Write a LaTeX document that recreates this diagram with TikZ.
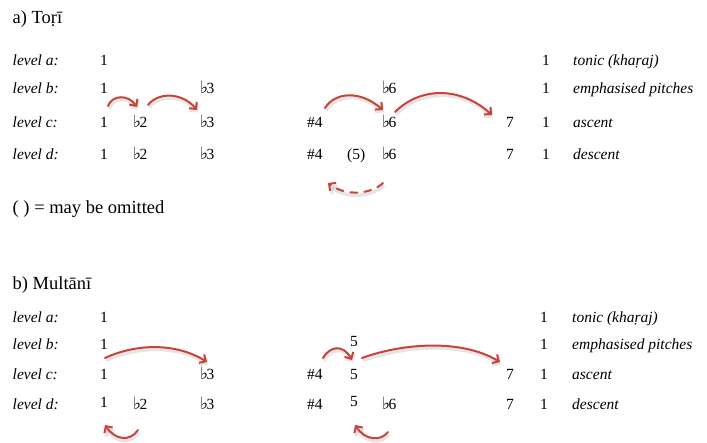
\documentclass[tikz,border=0pt]{standalone}
\usepackage{fontspec}
\setmainfont{Liberation Serif}
\newfontfamily\symfont{DejaVu Sans}
\usetikzlibrary{arrows.meta}
\definecolor{arrowred}{RGB}{198,68,58}
\newcommand\fl{{\symfont\fontsize{17}{12}\selectfont ♭}\kern-1.5pt}
\begin{document}
\begin{tikzpicture}[x=1pt,y=-1pt,
  txt/.style={anchor=base west, inner sep=0pt, font=\fontsize{15.5}{18}\selectfont},
  lab/.style={anchor=base west, inner sep=0pt, font=\fontsize{15.5}{18}\selectfont\itshape},
  ttl/.style={anchor=base west, inner sep=0pt, font=\fontsize{18.5}{22}\selectfont},
  arr/.style={draw=arrowred, line width=2pt, line cap=round,
    -{Straight Barb[length=5pt,width=10pt]},
    preaction={draw=black, draw opacity=0.1, line width=3.5pt,
      transform canvas={shift={(1pt,-2.5pt)}}}}
]
\useasboundingbox (0,0) rectangle (707,443);

% ---------- a) Tori ----------
\node[ttl] (ta) at (12.5,23.5) {a) Toṛī};
\node[lab] (aLa) at (12.5,66) {level a:};
\node[lab] (aLb) at (12.5,94) {level b:};
\node[lab] (aLc) at (12.5,128) {level c:};
\node[lab] (aLd) at (12.5,160) {level d:};

\node[txt] (aa1) at (100,66) {1};
\node[txt] (aa8) at (542,66) {1};
\node[lab] (aaD) at (573,66) {tonic (khaṛaj)};

\node[txt] (ab1) at (100,94) {1};
\node[txt] (ab3) at (200,94) {\fl3};
\node[txt] (ab6) at (382,94) {\fl6};
\node[txt] (ab8) at (542,94) {1};
\node[lab] (abD) at (573,94) {emphasised pitches};

\node[txt] (ac1) at (100,128) {1};
\node[txt] (ac2) at (133,128) {\fl2};
\node[txt] (ac3) at (200,128) {\fl3};
\node[txt] (ac4) at (307,128) {\#4};
\node[txt] (ac6) at (382,128) {\fl6};
\node[txt] (ac7) at (506,128) {7};
\node[txt] (ac8) at (542,128) {1};
\node[lab] (acD) at (573,128) {ascent};

\node[txt] (ad1) at (100,160) {1};
\node[txt] (ad2) at (133,160) {\fl2};
\node[txt] (ad3) at (200,160) {\fl3};
\node[txt] (ad4) at (307,160) {\#4};
\node[txt] (ad5) at (347,160) {(5)};
\node[txt] (ad6) at (382,160) {\fl6};
\node[txt] (ad7) at (506,160) {7};
\node[txt] (ad8) at (542,160) {1};
\node[lab] (adD) at (573,160) {descent};

\node[ttl] (note) at (12.5,214) {( ) = may be omitted};

\coordinate (a1s) at (108,106); \coordinate (a1e) at (137,107);
\coordinate (a2s) at (148,105); \coordinate (a2e) at (197,110);
\coordinate (a3s) at (325,108); \coordinate (a3e) at (383,110);
\coordinate (a4s) at (395,112); \coordinate (a4e) at (492,115);
\coordinate (a5s) at (383,183); \coordinate (a5e) at (328,183);
\draw[arr] (a1s) .. controls (112,95) and (128,94) .. (a1e);
\draw[arr] (a2s) .. controls (158,92) and (182,92) .. (a2e);
\draw[arr] (a3s) .. controls (335,92) and (360,90) .. (a3e);
\draw[arr] (a4s) .. controls (420,87) and (460,86) .. (a4e);
\draw[arr, dash pattern=on 7pt off 7pt] (a5s) .. controls (370,195) and (345,196) .. (a5e);

% ---------- b) Multani ----------
\node[ttl] (tb) at (12.5,290) {b) Multānī};
\node[lab] (bLa) at (12.5,323) {level a:};
\node[lab] (bLb) at (12.5,350) {level b:};
\node[lab] (bLc) at (12.5,380) {level c:};
\node[lab] (bLd) at (12.5,410) {level d:};

\node[txt] (ba1) at (100,323) {1};
\node[txt] (ba8) at (540,323) {1};
\node[lab] (baD) at (572,323) {tonic (khaṛaj)};

\node[txt] (bb1) at (100,350) {1};
\node[txt] (bb5) at (350,347) {5};
\node[txt] (bb8) at (540,350) {1};
\node[lab] (bbD) at (572,350) {emphasised pitches};

\node[txt] (bc1) at (100,380) {1};
\node[txt] (bc3) at (200,380) {\fl3};
\node[txt] (bc4) at (307,380) {\#4};
\node[txt] (bc5) at (350,380) {5};
\node[txt] (bc7) at (506,380) {7};
\node[txt] (bc8) at (540,380) {1};
\node[lab] (bcD) at (572,380) {ascent};

\node[txt] (bd1) at (100,408) {1};
\node[txt] (bd2) at (133,410) {\fl2};
\node[txt] (bd3) at (200,410) {\fl3};
\node[txt] (bd4) at (307,410) {\#4};
\node[txt] (bd5) at (350,407) {5};
\node[txt] (bd6) at (382,410) {\fl6};
\node[txt] (bd7) at (506,410) {7};
\node[txt] (bd8) at (540,410) {1};
\node[lab] (bdD) at (572,410) {descent};

\coordinate (b1s) at (105,358); \coordinate (b1e) at (207,362);
\coordinate (b2s) at (323,358); \coordinate (b2e) at (352,360);
\coordinate (b3s) at (362,358); \coordinate (b3e) at (500,362);
\coordinate (b4s) at (138,430); \coordinate (b4e) at (105,425);
\coordinate (b5s) at (388,432); \coordinate (b5e) at (355,425);
\draw[arr] (b1s) .. controls (135,344) and (175,342) .. (b1e);
\draw[arr] (b2s) .. controls (330,346) and (343,344) .. (b2e);
\draw[arr] (b3s) .. controls (400,344) and (460,338) .. (b3e);
\draw[arr] (b4s) .. controls (130,442) and (115,440) .. (b4e);
\draw[arr] (b5s) .. controls (380,442) and (365,440) .. (b5e);
\end{tikzpicture}
\end{document}
